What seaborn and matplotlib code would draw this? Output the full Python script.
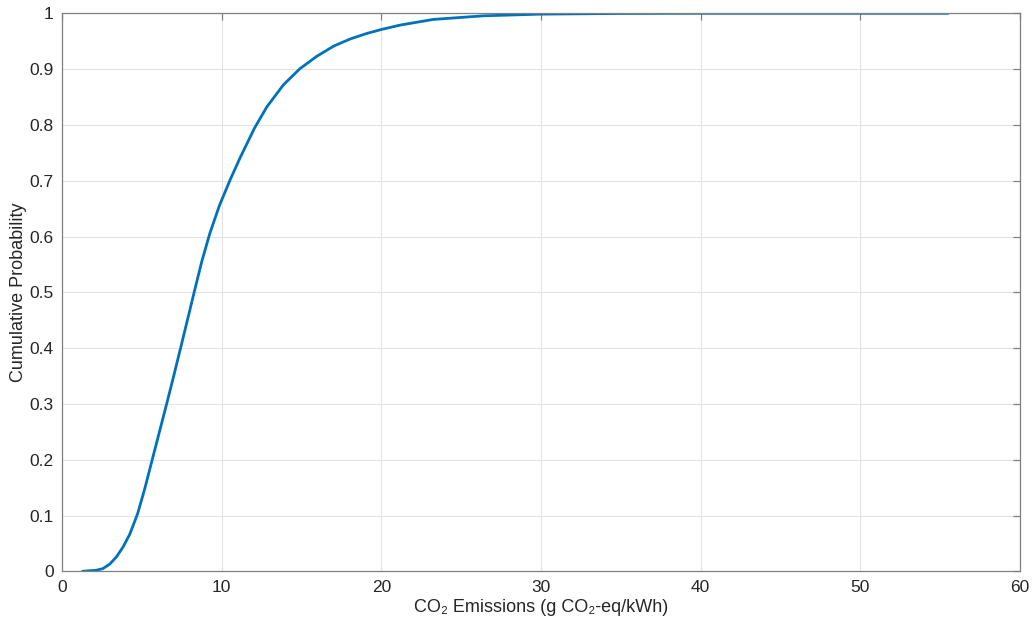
import matplotlib
matplotlib.use("Agg")
import matplotlib.pyplot as plt
import seaborn as sns
import pandas as pd

# CDF
emissions = [1.28, 2.16, 2.57, 2.99, 3.41, 3.83, 4.25, 4.73, 5.18, 5.63, 6.10,
             6.57, 7.01, 7.45, 7.85, 8.24, 8.74, 9.25, 9.85, 10.55, 11.15, 12.05,
             12.82, 13.87, 14.91, 15.96, 17.0, 18.05, 19.1, 20.0, 21.2, 23.25,
             26.4, 30.0, 35.0, 40.0, 55.5]
cum_prob = [0.0, 0.002, 0.005, 0.013, 0.026, 0.044, 0.067, 0.103, 0.148, 0.198,
            0.250, 0.302, 0.352, 0.403, 0.450, 0.496, 0.554, 0.605, 0.655, 0.703,
            0.741, 0.794, 0.832, 0.872, 0.901, 0.923, 0.941, 0.954, 0.964, 0.971,
            0.979, 0.989, 0.9955, 0.9985, 0.9997, 1.0, 1.0]
x_ticks = [0, 10, 20, 30, 40, 50, 60]
y_ticks = [0, 0.1, 0.2, 0.3, 0.4, 0.5, 0.6, 0.7, 0.8, 0.9, 1]
y_tick_labels = ["0", "0.1", "0.2", "0.3", "0.4", "0.5", "0.6", "0.7", "0.8", "0.9", "1"]
x_label = "CO\u2082 Emissions (g CO\u2082-eq/kWh)"
y_label = "Cumulative Probability"

df = pd.DataFrame({"x": emissions, "y": cum_prob})

sns.set_style("white")
plt.rcParams["font.family"] = ["Liberation Sans", "DejaVu Sans"]

fig = plt.figure(figsize=(10.34, 6.27), dpi=100)
ax = fig.add_axes([0.06, 0.0888, 0.9265, 0.89])

sns.lineplot(data=df, x="x", y="y", ax=ax, color="#0072BD", linewidth=2.0,
             sort=False, estimator=None)
ax.lines[0].set_solid_joinstyle("round")

ax.set_xlim(0, 60)
ax.set_ylim(0, 1)
ax.set_xticks(x_ticks)
ax.set_xticklabels([str(t) for t in x_ticks])
ax.set_yticks(y_ticks)
ax.set_yticklabels(y_tick_labels)

ax.grid(True, color="#e3e3e3", linewidth=0.8)
ax.set_axisbelow(True)
for s in ax.spines.values():
    s.set_visible(True)
    s.set_color("#808080")
    s.set_linewidth(0.9)

ax.tick_params(axis="both", direction="in", length=5, width=0.9, color="#808080",
               labelsize=12.5, labelcolor="#262626", top=True, right=True, pad=6)

ax.set_xlabel(x_label, fontsize=13, color="#262626", labelpad=3)
ax.set_ylabel(y_label, fontsize=13, color="#262626", labelpad=2)

fig.savefig("out.png", dpi=100)
